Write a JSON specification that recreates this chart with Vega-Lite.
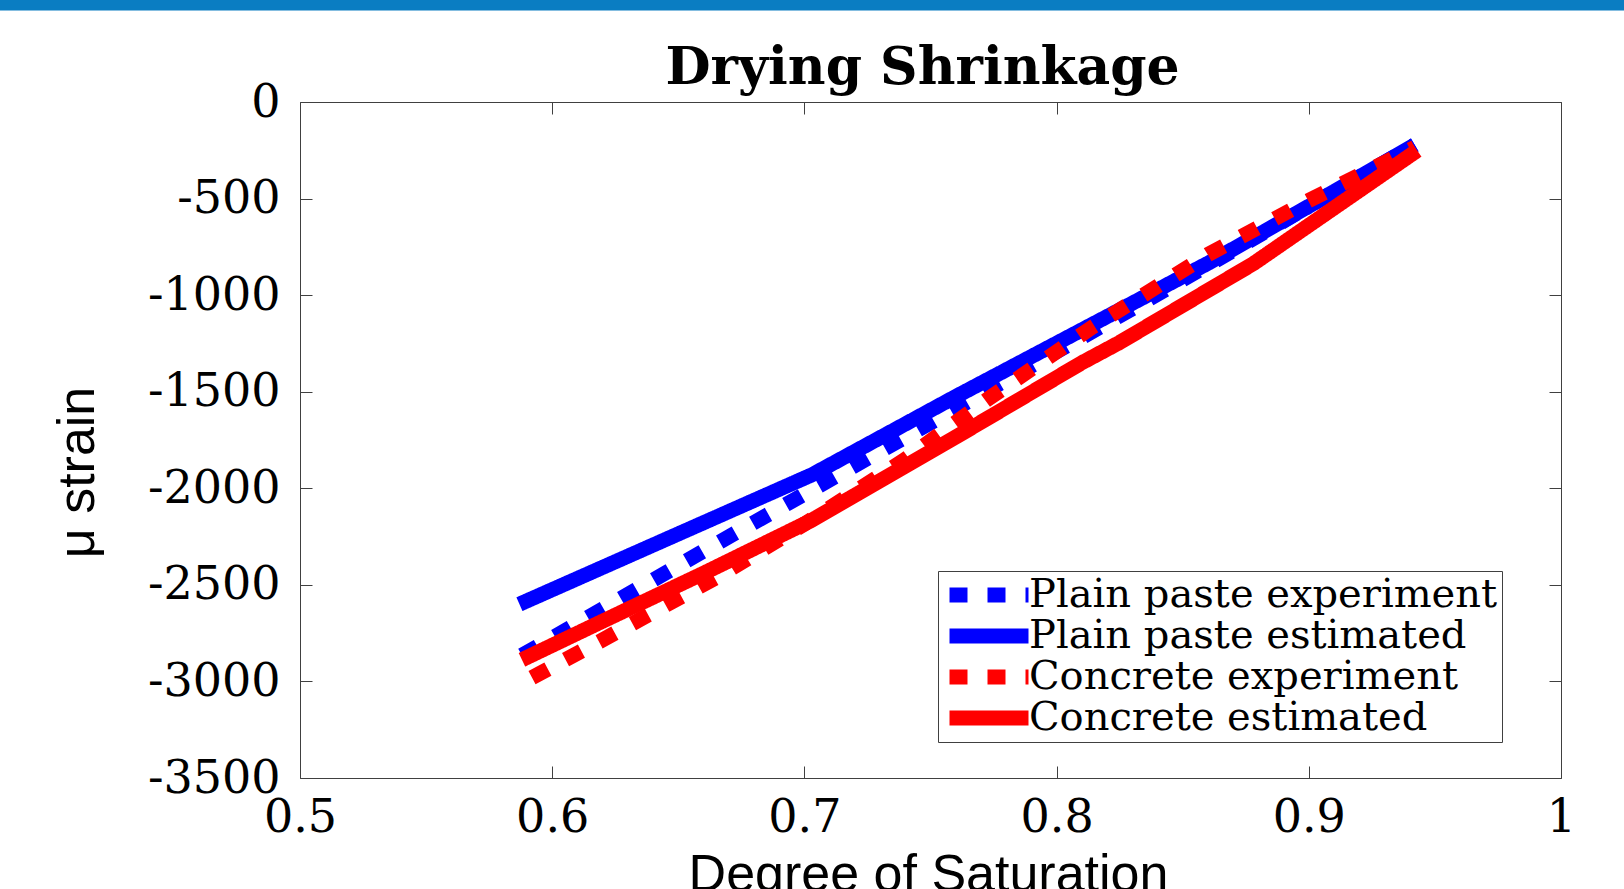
{
  "$schema": "https://vega.github.io/schema/vega-lite/v6.json",
  "width": 1261,
  "height": 676,
  "autosize": {"type": "none"},
  "padding": {"left": 300, "top": 102, "right": 63, "bottom": 111},
  "background": "white",
  "config": {"view": {"stroke": null}},
  "title": {
    "text": "Drying Shrinkage",
    "font": "DejaVu Serif",
    "fontWeight": "bold",
    "fontSize": 52,
    "color": "black",
    "anchor": "middle",
    "frame": "group",
    "baseline": "alphabetic",
    "offset": 0,
    "dy": 136,
    "dx": -8
  },
  "data": {
    "values": [
      {"series": "Plain paste experiment", "saturation": 0.588, "strain": -2865},
      {"series": "Plain paste experiment", "saturation": 0.62, "strain": -2625},
      {"series": "Plain paste experiment", "saturation": 0.66, "strain": -2325},
      {"series": "Plain paste experiment", "saturation": 0.70, "strain": -2030},
      {"series": "Plain paste experiment", "saturation": 0.74, "strain": -1735},
      {"series": "Plain paste experiment", "saturation": 0.78, "strain": -1440},
      {"series": "Plain paste experiment", "saturation": 0.82, "strain": -1145},
      {"series": "Plain paste experiment", "saturation": 0.86, "strain": -845},
      {"series": "Plain paste experiment", "saturation": 0.90, "strain": -540},
      {"series": "Plain paste experiment", "saturation": 0.942, "strain": -222},
      {"series": "Plain paste estimated", "saturation": 0.587, "strain": -2600},
      {"series": "Plain paste estimated", "saturation": 0.703, "strain": -1930},
      {"series": "Plain paste estimated", "saturation": 0.76, "strain": -1525},
      {"series": "Plain paste estimated", "saturation": 0.81, "strain": -1180},
      {"series": "Plain paste estimated", "saturation": 0.86, "strain": -835},
      {"series": "Plain paste estimated", "saturation": 0.90, "strain": -540},
      {"series": "Plain paste estimated", "saturation": 0.942, "strain": -222},
      {"series": "Concrete experiment", "saturation": 0.592, "strain": -2980},
      {"series": "Concrete experiment", "saturation": 0.62, "strain": -2785},
      {"series": "Concrete experiment", "saturation": 0.667, "strain": -2448},
      {"series": "Concrete experiment", "saturation": 0.70, "strain": -2185},
      {"series": "Concrete experiment", "saturation": 0.74, "strain": -1850},
      {"series": "Concrete experiment", "saturation": 0.772, "strain": -1545},
      {"series": "Concrete experiment", "saturation": 0.814, "strain": -1167},
      {"series": "Concrete experiment", "saturation": 0.86, "strain": -790},
      {"series": "Concrete experiment", "saturation": 0.90, "strain": -510},
      {"series": "Concrete experiment", "saturation": 0.942, "strain": -235},
      {"series": "Concrete estimated", "saturation": 0.588, "strain": -2888},
      {"series": "Concrete estimated", "saturation": 0.62, "strain": -2688},
      {"series": "Concrete estimated", "saturation": 0.66, "strain": -2440},
      {"series": "Concrete estimated", "saturation": 0.703, "strain": -2165},
      {"series": "Concrete estimated", "saturation": 0.76, "strain": -1735},
      {"series": "Concrete estimated", "saturation": 0.81, "strain": -1350},
      {"series": "Concrete estimated", "saturation": 0.825, "strain": -1245},
      {"series": "Concrete estimated", "saturation": 0.878, "strain": -837},
      {"series": "Concrete estimated", "saturation": 0.943, "strain": -251}
    ]
  },
  "resolve": {"axis": {"x": "independent", "y": "independent"}},
  "layer": [
    {
      "data": {"values": [{"band": "slide header"}]},
      "mark": {"type": "rect", "color": "#0A7DC2", "clip": false},
      "encoding": {
        "x": {"datum": 0.38, "type": "quantitative", "axis": null, "scale": {"domain": [0.5, 1], "nice": false, "zero": false}},
        "x2": {"datum": 1.03},
        "y": {"datum": 474, "type": "quantitative", "axis": null, "scale": {"domain": [-3500, 0], "nice": false, "zero": false}},
        "y2": {"datum": 528}
      }
    },
    {
      "transform": [{"filter": "datum.series === 'Plain paste experiment'"}],
      "mark": {"type": "line", "strokeWidth": 15, "strokeCap": "butt", "strokeJoin": "miter", "clip": false},
      "encoding": {
        "x": {
          "field": "saturation", "type": "quantitative",
          "scale": {"domain": [0.5, 1], "nice": false, "zero": false},
          "axis": {
            "orient": "bottom", "values": [0.5, 0.6, 0.7, 0.8, 0.9, 1],
            "labelExpr": "'' + datum.value",
            "labelFont": "DejaVu Serif", "labelFontSize": 46, "labelColor": "black",
            "labelPadding": 29, "labelBaseline": "top", "labelAlign": "center",
            "labelOverlap": false, "labelBound": false, "labelFlush": false,
            "tickSize": -12, "tickColor": "#404040", "tickWidth": 1,
            "domainColor": "#404040", "domainWidth": 1, "grid": false,
            "title": "Degree of Saturation", "titleFont": "Liberation Sans", "titleFontSize": 52,
            "titleFontWeight": "normal", "titleColor": "black",
            "titleX": 628, "titleY": 112, "titleBaseline": "alphabetic", "titleAlign": "center", "titleAngle": 0
          }
        },
        "y": {
          "field": "strain", "type": "quantitative",
          "scale": {"domain": [-3500, 0], "nice": false, "zero": false},
          "axis": {
            "orient": "left", "values": [-3500, -3000, -2500, -2000, -1500, -1000, -500, 0],
            "labelExpr": "'' + datum.value",
            "labelFont": "DejaVu Serif", "labelFontSize": 46, "labelColor": "black",
            "labelPadding": 32, "labelBaseline": "middle", "labelAlign": "right",
            "labelOverlap": false, "labelBound": false, "labelFlush": false,
            "tickSize": -12, "tickColor": "#404040", "tickWidth": 1,
            "domainColor": "#404040", "domainWidth": 1, "grid": false,
            "title": "μ strain", "titleFont": "Liberation Sans", "titleFontSize": 52,
            "titleFontWeight": "normal", "titleColor": "black",
            "titleAngle": 270, "titleBaseline": "alphabetic", "titleAlign": "center",
            "titleX": -207, "titleY": 370
          }
        },
        "color": {
          "field": "series", "type": "nominal",
          "scale": {
            "domain": ["Plain paste experiment", "Plain paste estimated", "Concrete experiment", "Concrete estimated"],
            "range": ["#0000FF", "#0000FF", "#FF0000", "#FF0000"]
          },
          "legend": {
            "title": null, "orient": "none", "legendX": 638, "legendY": 469,
            "direction": "vertical", "padding": 4,
            "strokeColor": "#404040", "fillColor": "white", "cornerRadius": 0,
            "labelFont": "DejaVu Serif", "labelFontSize": 40, "labelColor": "black",
            "labelLimit": 0, "labelOffset": -7, "labelBaseline": "middle",
            "symbolType": "stroke", "symbolSize": 6241, "symbolStrokeWidth": 15,
            "clipHeight": 40, "rowPadding": 1, "symbolOpacity": 1
          }
        },
        "strokeDash": {
          "field": "series", "type": "nominal",
          "scale": {
            "domain": ["Plain paste experiment", "Plain paste estimated", "Concrete experiment", "Concrete estimated"],
            "range": [[18, 20], [1, 0], [18, 20], [1, 0]]
          }
        }
      }
    },
    {
      "transform": [{"filter": "datum.series === 'Plain paste estimated'"}],
      "mark": {"type": "line", "strokeWidth": 15, "strokeCap": "butt", "strokeJoin": "miter", "clip": false},
      "encoding": {
        "x": {
          "field": "saturation", "type": "quantitative",
          "scale": {"domain": [0.5, 1], "nice": false, "zero": false},
          "axis": {
            "orient": "top", "values": [0.5, 0.6, 0.7, 0.8, 0.9, 1], "labels": false, "title": null,
            "tickSize": -12, "tickColor": "#404040", "tickWidth": 1,
            "domainColor": "#404040", "domainWidth": 1, "grid": false
          }
        },
        "y": {
          "field": "strain", "type": "quantitative",
          "scale": {"domain": [-3500, 0], "nice": false, "zero": false},
          "axis": {
            "orient": "right", "values": [-3500, -3000, -2500, -2000, -1500, -1000, -500, 0], "labels": false, "title": null,
            "tickSize": -12, "tickColor": "#404040", "tickWidth": 1,
            "domainColor": "#404040", "domainWidth": 1, "grid": false
          }
        },
        "color": {"field": "series", "type": "nominal"},
        "strokeDash": {"field": "series", "type": "nominal"}
      }
    },
    {
      "transform": [{"filter": "datum.series === 'Concrete experiment'"}],
      "mark": {"type": "line", "strokeWidth": 15, "strokeCap": "butt", "strokeJoin": "miter", "clip": false},
      "encoding": {
        "x": {"field": "saturation", "type": "quantitative", "axis": null},
        "y": {"field": "strain", "type": "quantitative", "axis": null},
        "color": {"field": "series", "type": "nominal"},
        "strokeDash": {"field": "series", "type": "nominal"}
      }
    },
    {
      "transform": [{"filter": "datum.series === 'Concrete estimated'"}],
      "mark": {"type": "line", "strokeWidth": 15, "strokeCap": "butt", "strokeJoin": "miter", "clip": false},
      "encoding": {
        "x": {"field": "saturation", "type": "quantitative", "axis": null},
        "y": {"field": "strain", "type": "quantitative", "axis": null},
        "color": {"field": "series", "type": "nominal"},
        "strokeDash": {"field": "series", "type": "nominal"}
      }
    }
  ]
}
